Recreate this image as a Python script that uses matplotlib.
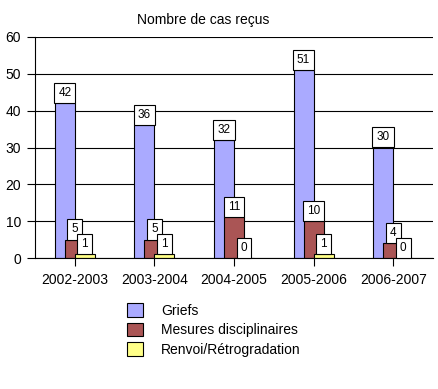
import numpy as np
import matplotlib
matplotlib.use('Agg')
import matplotlib.pyplot as plt

plt.rcParams['font.family'] = ['Liberation Sans', 'DejaVu Sans']

# data
years = ['2002-2003', '2003-2004', '2004-2005', '2005-2006', '2006-2007']
griefs = [42, 36, 32, 51, 30]
mesures = [5, 5, 11, 10, 4]
renvoi = [1, 1, 0, 1, 0]
series_names = ['Griefs', 'Mesures disciplinaires', 'Renvoi/Rétrogradation']
colors = ['#aaaaff', '#aa5555', '#ffff88']

W, H = 439, 389
fig = plt.figure(figsize=(W / 100, H / 100), dpi=100)
ax = fig.add_axes([35 / W, 1 - 258 / H, (433 - 35) / W, (258 - 37) / H])

x = np.arange(len(years))
width = 0.251
offsets = [-0.126, 0.0, 0.126]
all_series = [griefs, mesures, renvoi]

bars_list = []
for vals, off, col, name in zip(all_series, offsets, colors, series_names):
    bars = ax.bar(x + off, vals, width=width, color=col, edgecolor='black',
                  linewidth=0.8, label=name, zorder=2)
    bars_list.append(bars)

# value labels in small boxes
for vals, off in zip(all_series, offsets):
    for xi, v in zip(x, vals):
        ax.annotate(str(v), (xi + off, v), xytext=(0, 3.0), textcoords='offset points',
                    ha='center', va='bottom', fontsize=8.5, zorder=5,
                    bbox=dict(boxstyle='square,pad=0.35', fc='white', ec='black', lw=0.8))

ax.set_xlim(-0.5, len(years) - 0.5)
ax.set_ylim(0, 60)
ax.set_yticks([0, 10, 20, 30, 40, 50, 60])
ax.set_xticks(x)
ax.set_xticklabels(years)
ax.tick_params(axis='both', labelsize=10, length=6, width=0.8, color='black')
ax.tick_params(axis='y', pad=4)
ax.tick_params(axis='x', pad=5)
ax.grid(axis='y', color='black', linewidth=0.8, zorder=0)
ax.set_axisbelow(True)
for s in ['top', 'right']:
    ax.spines[s].set_visible(False)
for s in ['left', 'bottom']:
    ax.spines[s].set_linewidth(0.8)
    ax.spines[s].set_zorder(3)

fig.text(203 / W, 1 - 20 / H, 'Nombre de cas reçus', ha='center', va='center', fontsize=10)

fig.legend(handles=bars_list, labels=series_names, loc='upper left',
           bbox_to_anchor=(127 / W, 1 - 303 / H), frameon=False, fontsize=10,
           handlelength=1.15, handleheight=1.15, labelspacing=0.36,
           handletextpad=1.3, borderpad=0, borderaxespad=0)

fig.savefig('out.png', dpi=100)
